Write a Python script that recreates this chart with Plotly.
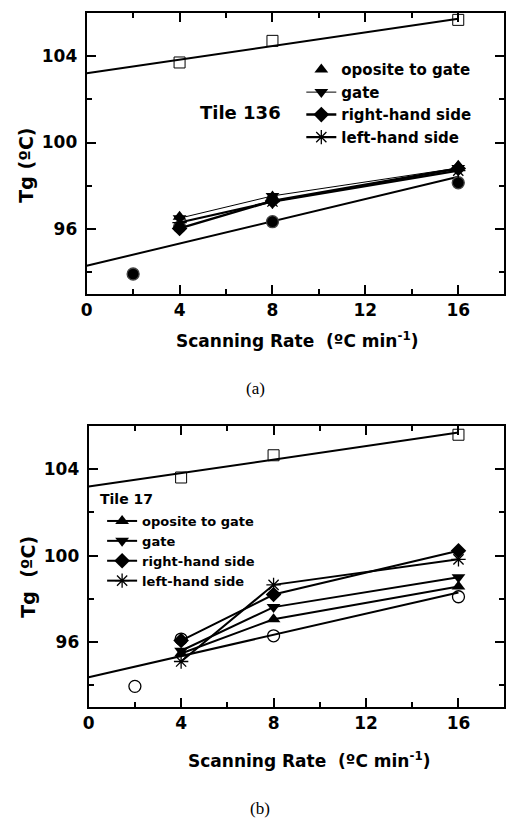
import plotly.graph_objects as go

# Scanning rates (ºC/min)
rates = [4, 8, 16]
ref_rates = [2, 4, 8, 16]
sq_rates = [4, 8, 16]
fit_x = [0, 16]

# Tile 136 (panel a)
a_square = [103.7, 104.7, 105.67]
a_circle = [93.92, 96.1, 96.34, 98.14]
a_fit_square = [103.2, 105.72]
a_fit_circle = [94.3, 98.42]
a_opposite = [96.57, 97.5, 98.93]
a_gate = [96.5, 97.53, 98.82]
a_right = [96.03, 97.3, 98.8]
a_left = [96.3, 97.27, 98.7]

# Tile 17 (panel b)
b_square = [103.62, 104.65, 105.6]
b_circle = [93.95, 96.14, 96.29, 98.1]
b_fit_square = [103.2, 105.7]
b_fit_circle = [94.37, 98.3]
b_opposite = [95.47, 97.06, 98.57]
b_gate = [95.6, 97.62, 99.0]
b_right = [96.07, 98.2, 100.23]
b_left = [95.1, 98.65, 99.83]

FONT = "DejaVu Sans, Verdana, sans-serif"
BLACK = "#000000"

fig = go.Figure()


def add_panel(xa, ya, square, circle, fit_sq, fit_ci, opp, gate, right, left,
              circle_filled, legend, opp_mode, widths):
    fig.add_trace(go.Scatter(x=fit_x, y=fit_sq, mode="lines", xaxis=xa, yaxis=ya,
                             line=dict(color=BLACK, width=2), showlegend=False))
    fig.add_trace(go.Scatter(x=fit_x, y=fit_ci, mode="lines", xaxis=xa, yaxis=ya,
                             line=dict(color=BLACK, width=2), showlegend=False))
    fig.add_trace(go.Scatter(x=sq_rates, y=square, mode="markers", xaxis=xa, yaxis=ya,
                             marker=dict(symbol="square-open", size=11, color=BLACK,
                                         line=dict(width=1)),
                             showlegend=False))
    fig.add_trace(go.Scatter(x=ref_rates, y=circle, mode="markers", xaxis=xa, yaxis=ya,
                             marker=dict(symbol="circle" if circle_filled else "circle-open",
                                         size=12, color=BLACK, line=dict(width=1.3)),
                             showlegend=False))
    fig.add_trace(go.Scatter(x=rates, y=opp, mode=opp_mode, name="oposite to gate",
                             xaxis=xa, yaxis=ya, legend=legend,
                             line=dict(color=BLACK, width=widths[0]),
                             marker=dict(symbol="triangle-up", size=12, color=BLACK)))
    fig.add_trace(go.Scatter(x=rates, y=gate, mode="lines+markers", name="gate",
                             xaxis=xa, yaxis=ya, legend=legend,
                             line=dict(color=BLACK, width=widths[1]),
                             marker=dict(symbol="triangle-down", size=12, color=BLACK)))
    fig.add_trace(go.Scatter(x=rates, y=right, mode="lines+markers", name="right-hand side",
                             xaxis=xa, yaxis=ya, legend=legend,
                             line=dict(color=BLACK, width=widths[2]),
                             marker=dict(symbol="diamond", size=12, color=BLACK)))
    fig.add_trace(go.Scatter(x=rates, y=left, mode="lines+markers", name="left-hand side",
                             xaxis=xa, yaxis=ya, legend=legend,
                             line=dict(color=BLACK, width=widths[3]),
                             marker=dict(symbol="asterisk-open", size=12, color=BLACK,
                                         line=dict(width=1.3, color=BLACK))))


add_panel("x", "y", a_square, a_circle, a_fit_square, a_fit_circle,
          a_opposite, a_gate, a_right, a_left, True, "legend", "markers",
          [2, 1, 2.5, 2.2])
add_panel("x2", "y2", b_square, b_circle, b_fit_square, b_fit_circle,
          b_opposite, b_gate, b_right, b_left, False, "legend2", "lines+markers",
          [2, 2, 2, 2])

axis_common = dict(
    showline=True, linecolor=BLACK, linewidth=2, mirror="ticks",
    ticks="inside", ticklen=9, tickwidth=1.5, tickcolor=BLACK,
    showgrid=False, zeroline=False,
    tickfont=dict(family=FONT, size=17, color=BLACK, weight="bold"),
    minor=dict(ticks="inside", ticklen=5, tickwidth=1.5, tickcolor=BLACK, dtick=2),
)
xcommon = dict(axis_common, range=[0, 17.97], tickmode="linear", tick0=0, dtick=4,
               ticklabelstandoff=0)
ycommon = dict(axis_common, range=[93, 106], tickvals=[96, 100, 104],
               ticklabelstandoff=4)
ycommon["minor"] = dict(axis_common["minor"], tickvals=[94, 98, 102])
ycommon["minor"].pop("dtick")

legend_font = dict(family=FONT, size=15, color=BLACK, weight="bold")

fig.update_layout(
    width=506, height=821,
    margin=dict(l=0, r=0, t=0, b=0),
    paper_bgcolor="white", plot_bgcolor="white",
    xaxis=dict(xcommon, domain=[0.162, 1.0], anchor="y"),
    yaxis=dict(ycommon, domain=[0.642, 0.9845], anchor="x"),
    xaxis2=dict(xcommon, domain=[0.166, 1.0], anchor="y2"),
    yaxis2=dict(ycommon, domain=[0.139, 0.481], anchor="x2"),
    legend=dict(x=0.593, y=0.935, xanchor="left", yanchor="top",
                bgcolor="rgba(0,0,0,0)", font=legend_font,
                tracegroupgap=0, itemwidth=30),
    legend2=dict(x=0.193, y=1 - 506 / 821, xanchor="left", yanchor="top",
                 bgcolor="rgba(0,0,0,0)",
                 font=dict(legend_font, size=13),
                 tracegroupgap=0, itemwidth=30),
    showlegend=True,
)

title_font = dict(family=FONT, size=17, color=BLACK, weight="bold")
ytitle_font = dict(title_font, size=19)
xtitle = "Scanning Rate  (ºC min<sup>-1</sup>)"
annotations = [
    dict(text="Tile 136", x=238, y=112, font=dict(title_font, size=18)),
    dict(text="Tile 17", x=93, y=499, font=dict(title_font, size=14), xanchor="left"),
    dict(text=xtitle, x=296, y=340, font=title_font),
    dict(text=xtitle, x=308, y=760, font=title_font),
    dict(text="Tg (ºC)", x=20, y=165, font=ytitle_font, textangle=-90),
    dict(text="Tg  (ºC)", x=22, y=577, font=ytitle_font, textangle=-90),
    dict(text="(a)", x=253, y=388,
         font=dict(family="Liberation Serif, Times New Roman, serif", size=17, color=BLACK)),
    dict(text="(b)", x=258, y=808,
         font=dict(family="Liberation Serif, Times New Roman, serif", size=17, color=BLACK)),
]
for a in annotations:
    fig.add_annotation(text=a["text"], x=a["x"] / 506, y=1 - a["y"] / 821,
                       xref="paper", yref="paper", showarrow=False,
                       xanchor=a.get("xanchor", "center"), yanchor="middle",
                       textangle=a.get("textangle", 0), font=a["font"])

fig.write_html("out.html")
